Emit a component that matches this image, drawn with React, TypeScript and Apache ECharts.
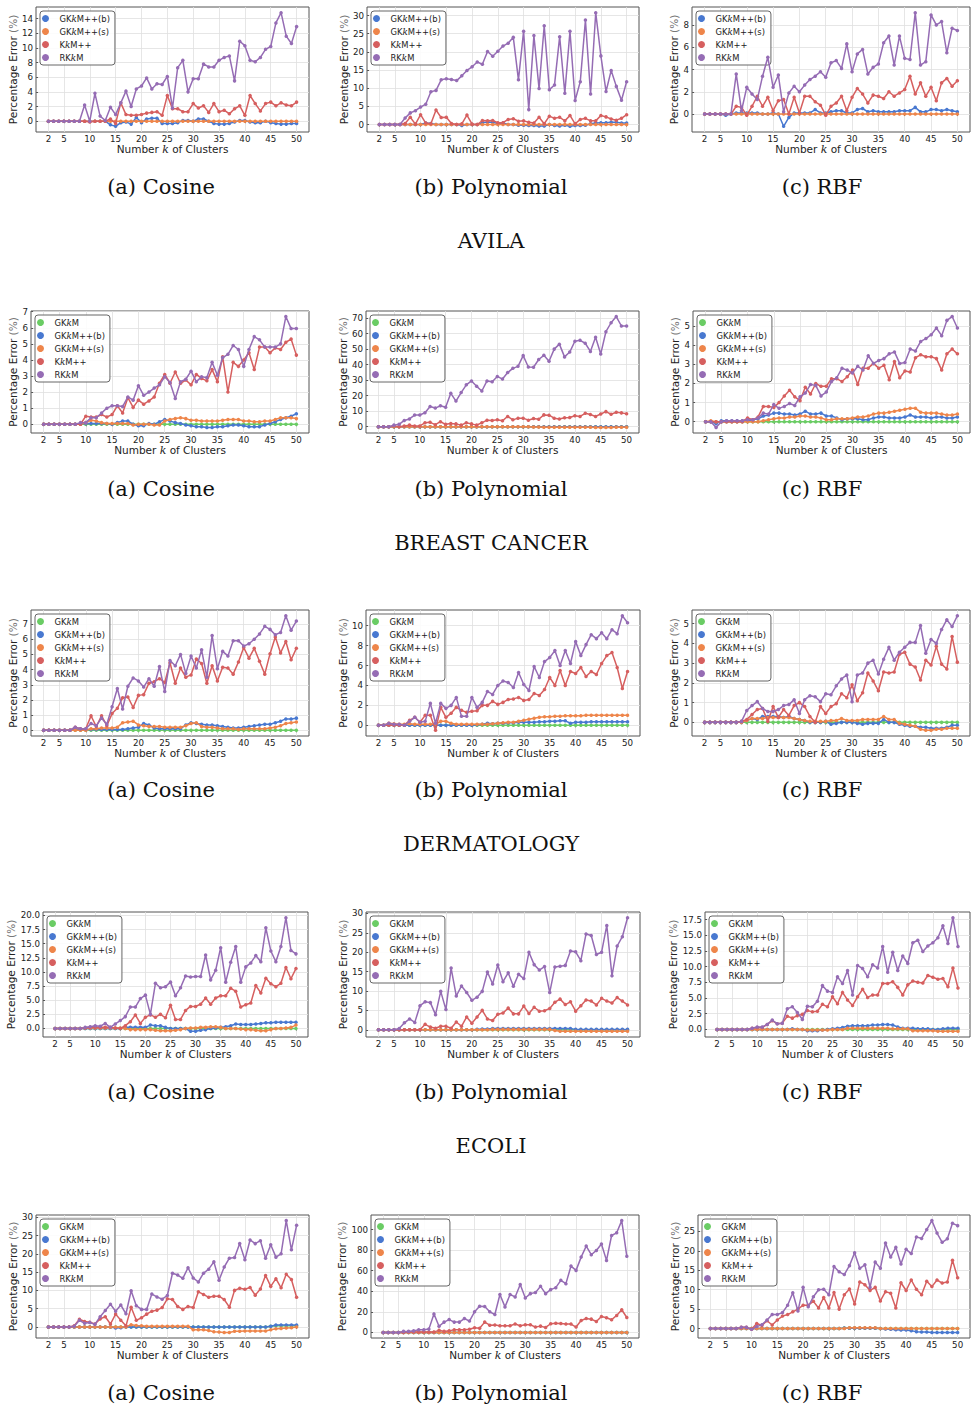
import React, { useEffect, useRef } from "react";
import * as echarts from "echarts";

// ---------- categories / ticks ----------
const K_VALUES = [2,3,4,5,6,7,8,9,10,11,12,13,14,15,16,17,18,19,20,21,22,23,24,25,26,27,28,29,30,31,32,33,34,35,36,37,38,39,40,41,42,43,44,45,46,47,48,49,50];
const X_TICKS = [2,5,10,15,20,25,30,35,40,45,50];
const SERIES_NAMES = ["GKkM","GKkM++(b)","GKkM++(s)","KkM++","RKkM"];
const CAPTIONS = ["(a) Cosine","(b) Polynomial","(c) RBF"];
const DATASETS = ["AVILA","BREAST CANCER","DERMATOLOGY","ECOLI"];

const ZERO = [0,0,0,0,0,0,0,0,0,0, 0,0,0,0,0,0,0,0,0,0, 0,0,0,0,0,0,0,0,0,0, 0,0,0,0,0,0,0,0,0,0, 0,0,0,0,0,0,0,0,0];

// ---------- AVILA ----------
const AV_COS_B = [0,0,0,0,0,0,0,0,0,0, 0,0,-0.5,-0.7,-0.2,-0.1,-0.4,0.5,-0.2,0.3, 0.4,0.4,-0.3,-0.3,-0.3,-0.2,0.1,0.1,0,0.3, 0.3,0,-0.3,-0.4,-0.4,-0.3,-0.1,0.1,0.1,-0.1, -0.2,-0.2,0,-0.2,-0.3,-0.4,-0.4,-0.3,-0.3];
const AV_COS_K = [0,0,0,0,0,0,0,0,-0.1,0, 0,0,0.3,-0.3,2.5,0.9,0.8,0.8,0.9,1.1, 1.2,1.3,0.8,3.5,1.7,1.7,1.3,1.3,2.4,1.8, 2.1,1.2,2.4,1.3,1.5,1.0,1.7,2.1,0.8,3.5, 2.4,1.4,2.4,2.6,2.1,2.5,2.2,2.1,2.6];
const AV_COS_R = [0,0,0,0,0,0,0,2.2,0,3.8, 0.7,0.1,1.9,0.9,2.5,4.1,2.0,4.4,4.8,5.9, 4.4,5.1,5.0,6.1,1.8,7.3,8.3,4.0,5.8,5.8, 7.8,7.4,7.4,8.3,8.7,8.9,5.5,10.9,10.3,8.3, 8.1,8.7,9.8,10.2,13.4,14.8,11.6,10.6,12.9];

const AV_POL_B = [0,0,0,0,0,0,0,0,0,0.4, 0.3,0,0,0,0,0,-0.3,0,0,0, 0.5,0.7,0.6,0.3,0.4,0,0,-0.2,-0.2,-0.3, -0.3,-0.4,-0.4,0,-0.3,-0.4,-0.2,-0.5,-0.3,-0.3, -0.2,0.2,0.4,0.5,0.5,0.6,0.6,0.4,0.4];
const AV_POL_K = [0,0,0,0,0,0.3,2.0,0.1,2.7,0.4, 0.2,4.0,1.9,2.0,0.3,0,0.2,2.6,0.1,0, 1.1,1.0,1.1,0.5,0.5,1.4,1.6,0.9,1.0,0.6, 0.4,2.0,0.2,2.3,1.7,2.0,1.0,2.5,0.2,1.4, 1.7,1.0,1.0,2.5,2.1,1.5,1.2,1.7,2.7];
const AV_POL_R = [0,0,0,0,0,1.8,3.2,3.8,4.8,5.6, 9.0,9.4,12.3,12.6,12.4,12.1,13.4,14.9,15.9,17.2, 16.6,20.1,18.8,20.2,21.6,22.4,24.0,12.3,25.7,4.1, 24.5,9.9,27.2,9.6,10.9,24.2,8.6,25.7,6.6,11.8, 28.8,8.4,30.8,18.9,9.1,14.9,10.5,6.7,11.8];

const AV_RBF_B = [0,0,0,0,-0.1,0,0.1,0.1,0.1,0.1, 0.1,0,0,0.1,0,-1.1,-0.3,0.1,0.1,0.1, 0.1,0.4,0.1,0.1,0.2,0.3,0.3,0.1,0.1,0.4, 0.5,0.2,0.3,0.2,0.2,0.2,0.2,0.3,0.3,0.3, 0.6,0.2,0.2,0.4,0.4,0.3,0.4,0.3,0.2];
const AV_RBF_K = [0,0,0,0,0,0,0.7,0.6,-0.1,0.7, 1.6,0.7,1.5,0.3,1.2,1.3,0,1.5,0.1,1.6, 1.6,1.1,0.8,-0.1,0.7,1.0,1.6,0.3,1.5,2.3, 1.8,1.0,1.7,1.6,1.4,2.0,1.6,1.9,2.2,3.4, 1.8,2.8,1.6,2.4,1.2,2.8,3.2,2.5,3.0];
const AV_RBF_R = [0,0,0,0,0,0,3.6,0.3,2.4,1.8, 1.3,3.4,5.1,2.4,3.5,0.2,1.9,2.5,2.0,2.6, 3.1,3.4,3.8,3.3,4.6,4.8,4.1,6.3,3.8,5.4, 5.8,3.6,4.2,4.5,6.4,7.0,4.4,7.0,5.0,4.9, 9.1,4.4,4.7,8.9,8.0,8.3,5.5,7.7,7.5];

// ---------- BREAST CANCER ----------
const BC_COS_B = [0,0,0,0,0,0,0,0.05,0.05,0.05, 0.05,0.05,0.05,0,0.1,0.2,0.2,0,-0.1,-0.1, 0.05,0,0.15,0.3,0.2,0.1,0.05,-0.05,-0.1,-0.15, -0.15,-0.2,-0.2,-0.15,-0.15,-0.1,-0.05,-0.05,-0.1,-0.15, -0.15,-0.15,-0.05,0.05,0.15,0.3,0.4,0.5,0.65];
const BC_COS_S = [0,0,0,0,0,0,0,0,0.1,0.25, 0.2,0.1,0.05,0.05,0.05,0.05,0.05,-0.05,0,0, 0,-0.05,-0.05,0.2,0.3,0.35,0.4,0.35,0.25,0.25, 0.2,0.2,0.2,0.2,0.25,0.3,0.3,0.3,0.2,0.2, 0.15,0.15,0.2,0.2,0.3,0.4,0.4,0.4,0.35];
const BC_COS_K = [0,0,0,0,0,0,0,0,0.5,0.45, 0.45,0.6,0.45,0.6,1.15,0.7,1.65,1.05,1.5,1.25, 1.45,1.7,2.55,3.1,2.55,3.25,2.55,2.75,2.45,3.1, 2.85,2.7,3.4,2.65,4.2,2.0,3.85,3.6,4.0,4.45, 3.4,4.8,4.8,4.45,4.75,4.65,5.1,5.3,4.3];
const BC_COS_R = [0,0,0,0,0,0,0,0.1,0.1,0.4, 0.4,0.7,1.0,1.15,1.15,1.1,1.7,1.5,2.4,1.8, 2.0,2.25,2.45,2.95,2.6,1.6,2.65,2.8,3.3,2.65, 2.95,2.9,3.85,3.05,4.15,4.35,4.9,4.65,3.6,4.65, 5.45,5.25,4.8,4.8,4.8,5.0,6.7,5.95,5.95];

const BC_POL_S = [0,0,0,0,0,0,0,0,0,0, 0,0,0,0,0,0,0,0,0,0, 0,0,0,0,0,0,0,0,0,0, -0.2,-0.2,-0.3,-0.3,-0.3,-0.3,-0.3,-0.4,-0.4,-0.4, -0.4,-0.4,-0.5,-0.5,-0.5,-0.5,-0.4,-0.4,-0.4];
const BC_POL_K = [0,0,0,0.5,0,0.5,1,0.5,0.5,2.5, 2.8,1.3,3.2,1.5,2,1.8,1,2.5,1.8,1, 2.5,4.2,4.0,4.4,3.8,6.6,4.4,5.5,5.5,4.2, 5.3,4.8,7.6,7.4,5.5,5.0,5.7,5.9,7.0,6.6, 8.6,7.8,6.6,8.2,9.7,8.0,9.3,8.9,8.4];
const BC_POL_R = [0,0,0,1,1.5,4,5,7.5,7.5,9, 13,12,13.5,12.5,21.5,16.5,22,27,29.5,26, 23,29.5,29.0,32.4,30.7,34.9,37.6,38.9,45.8,38.5, 38.3,43.3,46.0,42.2,50.0,53.2,45.0,48.1,55.1,55.7, 53.8,48.5,57.6,46.9,61.2,67.0,71.0,64.9,64.9];

const BC_RBF_B = [0,0,-0.1,0.05,0.05,0.05,0.05,0.05,0.05,0.1, 0.15,0.3,0.35,0.45,0.45,0.4,0.4,0.35,0.4,0.55, 0.4,0.4,0.45,0.3,0.3,0.2,0.1,0.15,0.15,0.15, 0.1,0.1,0.2,0.25,0.25,0.2,0.2,0.2,0.25,0.35, 0.25,0.25,0.25,0.2,0.25,0.25,0.2,0.2,0.25];
const BC_RBF_S = [0,0.05,0,0,0,0,0,0,0,0, 0,0.05,0.1,0.15,0.2,0.2,0.25,0.25,0.3,0.3, 0.25,0.25,0.2,0.1,0.1,0.15,0.15,0.15,0.2,0.25, 0.25,0.3,0.4,0.45,0.45,0.5,0.55,0.6,0.65,0.7, 0.7,0.5,0.45,0.45,0.45,0.4,0.35,0.35,0.4];
const BC_RBF_K = [0,0,0,0,0,0,0,0,0.2,0.1, 0.25,0.8,0.8,0.75,1.0,1.35,1.65,1.3,1.1,1.8, 1.45,2.0,1.85,1.85,2.25,2.25,2.1,2.35,2.7,1.95, 2.8,2.8,3.05,2.8,2.95,2.2,3.15,2.3,2.65,2.6, 3.35,3.5,3.4,3.4,3.3,2.7,3.55,3.8,3.55];
const BC_RBF_R = [0,0,-0.3,0,0.05,0.05,0.05,0.05,0.1,0.1, 0.2,0.45,0.4,0.9,0.7,0.8,0.95,0.85,1.3,1.5, 1.95,1.9,1.35,1.55,2.1,2.3,2.8,2.7,2.55,2.9, 2.7,3.45,3.05,3.2,3.3,3.55,3.65,3.05,3.1,3.8, 3.7,4.2,4.35,4.55,4.9,4.5,5.3,5.5,4.9];

// ---------- DERMATOLOGY ----------
const DE_COS_B = [0,0,0,0,0,0,0.05,0.05,0.05,0.05, 0.05,0.05,0.05,0.05,0.05,0.05,0.1,0.15,0.2,0.45, 0.35,0.15,0.1,0.1,0.1,0.1,0.1,0.35,0.5,0.45, 0.4,0.35,0.35,0.3,0.25,0.2,0.15,0.15,0.2,0.25, 0.3,0.35,0.4,0.4,0.5,0.6,0.75,0.75,0.8];
const DE_COS_S = [0,0,0,0,0,0,0,0,0,0.1, 0.1,0.15,0.15,0.15,0.2,0.5,0.55,0.6,0.35,0.3, 0.25,0.25,0.25,0.2,0.2,0.2,0.2,0.3,0.45,0.5, 0.25,0.2,0.2,0.15,0.1,0.1,0.1,0.05,0.1,0.1, 0.1,0.1,0.1,0.15,0.2,0.3,0.45,0.5,0.55];
const DE_COS_K = [0,0,0,0,0,0,0.2,0.1,0.1,0.95, 0.25,0.95,0.3,1.1,1.45,2.15,2.2,1.5,2.3,2.35, 3.1,3.2,3.4,3.15,4.45,3.1,4.1,3.5,3.65,4.7, 4.4,3.1,4.25,3.25,4.15,4.1,3.7,4.5,5.45,4.75, 5.4,4.55,3.7,5.05,6.15,5.1,5.85,4.65,5.4];
const DE_COS_R = [0,0,0,0,0,0,0.2,0.1,0.1,0.45, 0.3,0.8,0.4,1.55,2.75,1.4,2.9,3.45,3.25,2.85, 3.4,2.9,4.2,2.55,4.6,4.25,5.0,3.75,4.9,4.1, 5.3,3.5,6.25,4.05,5.2,4.9,5.9,5.9,5.55,5.7, 6.0,6.35,6.85,6.65,6.3,6.45,7.55,6.6,7.2];

const DE_POL_B = [0,0,0,0,0,0,0,0,0,0, 0,0,0,0,0,0,0,0,0,0.05, 0.1,0.2,0.15,0.2,0.2,0.25,0.25,0.3,0.3,0.3, 0.3,0.35,0.35,0.4,0.4,0.45,0.45,0.2,0.3,0.3, 0.3,0.35,0.35,0.35,0.35,0.35,0.35,0.35,0.35];
const DE_POL_S = [0,0,0.2,0.15,0.1,0.1,0.15,0.1,0.1,0.1, 0.1,0.1,0.4,0.4,0.2,0.1,0.1,0.1,0.1,0.1, 0.1,0.1,0.15,0.2,0.25,0.3,0.3,0.4,0.5,0.6, 0.7,0.8,0.85,0.85,0.9,0.9,0.95,0.95,0.95,0.95, 1.0,1.0,1.0,1.0,1.0,1.0,1.0,1.0,1.0];
const DE_POL_K = [0,0,0,0,0,0,0.5,0.8,0.3,1.0, 1.0,-0.5,1.8,0.8,1.2,1.8,1.5,1.3,1.4,1.45, 2.0,2.0,2.4,2.1,2.3,2.6,2.65,2.8,2.5,2.6, 3.2,3.0,3.6,4.8,4.0,5.5,4.0,5.4,5.2,5.8, 4.9,5.4,5.1,6.2,7.0,7.3,5.8,3.7,5.4];
const DE_POL_R = [0,0,0.2,0.1,0.1,0,0.4,0.8,0.3,0.4, 2.2,0.2,2.2,1.7,2.0,2.8,0.9,0.9,2.8,1.8, 2.3,3.4,3.1,4.0,4.45,4.3,3.8,5.3,4.1,3.5, 5.9,4.8,6.4,6.8,7.5,6.0,7.5,6.2,8.4,7.0, 8.1,9.1,8.7,9.3,8.7,9.6,9.2,11.0,10.3];

const DE_RBF_B = [0,0,0,0,0,0,0,0,0.1,0.2, 0.15,0.3,0.3,0.3,0.3,0.25,0.3,0.2,0.15,0.1, 0,0,0,0.05,-0.1,-0.05,0,0,0,-0.05, -0.1,-0.05,-0.05,-0.05,0.15,0,0,-0.1,-0.15,-0.2, -0.2,-0.25,-0.25,-0.3,-0.3,-0.3,-0.25,-0.15,-0.15];
const DE_RBF_S = [0,0,0,0,0,0,0,0,0.1,0.2, 0.2,0.2,0.25,0.25,0.25,0.25,0.25,0.2,0.15,0.1, 0.05,0.05,0.05,0.05,0.1,0.1,0.2,0.1,0.1,0.1, 0.15,0.15,0.15,0.15,0.3,0.15,0.15,-0.05,-0.1,-0.15, -0.2,-0.35,-0.4,-0.4,-0.35,-0.35,-0.3,-0.3,-0.3];
const DE_RBF_K = [0,0,0,0,0,0,0,0.05,0.15,0.4, 0.65,0.7,0.05,0.8,0.25,0.65,0.35,0.85,1.0,0.8, 0.3,0,0.8,0.45,0.8,0.95,1.45,1.25,1.9,1.1, 1.5,2.5,2.1,1.6,2.55,2.5,2.55,3.45,3.55,2.95, 2.8,2.15,3.15,2.9,3.85,2.95,2.7,4.35,3.05];
const DE_RBF_R = [0,0,0,0,0,0,0,0.05,0.6,0.85, 1.05,0.7,0.55,0.55,0.65,0.85,0.9,1.15,0.45,1.15, 1.35,1.3,1.05,1.45,1.4,1.85,2.2,2.4,1.05,2.4, 2.5,3.0,3.15,2.45,3.2,3.8,3.15,3.55,3.8,4.05, 4.05,4.9,3.5,4.2,4.0,4.7,5.2,4.85,5.4];

// ---------- ECOLI ----------
const EC_COS_B = [0,0,0,0,0,0,0,0,0,0, 0,0,0,0,0.2,0.2,0.2,0.2,0.2,0.6, 0.5,0.5,0.2,0,0,0,0,-0.5,-0.5,-0.3, -0.2,0,0.1,0.2,0.3,0.5,0.8,0.7,0.7,0.7, 0.8,0.9,1.0,1.0,1.1,1.1,1.1,1.1,1.1];
const EC_COS_S = [0,0,0,0,0,0,0.1,0.1,0.1,0.1, 0.1,0.1,0.1,0.1,0,-0.2,-0.2,-0.2,-0.2,-0.2, -0.3,-0.4,-0.4,-0.4,-0.3,-0.2,0,0.1,0.1,0.2, 0.2,0.3,0.3,0.2,0,0,0,-0.1,-0.2,-0.2, -0.3,-0.4,-0.4,-0.2,0,0,0.1,0.2,0.6];
const EC_COS_K = [0,0,0,0,0,0,0.1,0.2,0.2,0.2, 0.2,0.2,0.1,0,0.5,1.2,2.4,0.9,2.0,2.4, 2.0,2.5,1.9,4.1,1.6,1.6,3.2,3.9,3.9,4.3, 5.4,4.3,5.4,5.8,5.8,7.1,6.6,3.8,4.2,4.5, 7.6,6.3,8.9,7.9,7.4,8.0,10.8,8.8,10.6];
const EC_COS_R = [0,0,0,0,0,0,0.2,0.3,0.5,0.4, 0.9,0.2,0.8,1.4,2.1,3.8,3.8,5.3,5.9,2.5, 8.0,7.2,7.4,8.2,5.8,7.2,9.3,9.1,9.2,9.2, 13.0,8.6,10.3,14.3,8.2,11.7,14.5,8.2,10.9,11.6, 12.9,11.8,17.8,13.7,11.8,14.5,19.6,13.8,13.2];

const EC_POL_B = [0,0,0,0,0,0,0,0,0,0, 0,0,0,0,0,0,0,0,0,0.1, 0.2,0.2,0.3,0.3,0.3,0.3,0.3,0.3,0.3,0.3, 0.3,0.3,0.3,0.3,0.3,0.3,0.3,0.3,0.1,0.1, 0.1,0.1,0.1,0.1,0.1,0.1,0.1,0.1,0.1];
const EC_POL_S = [0,0,0,0,0,0,0,0,0,0, 0,0,0,0,0,0,0,0,0,0, 0,0,0.1,0.1,0.1,0.1,0.1,0.1,0.1,0.1, 0.1,0.1,0.1,0.1,-0.2,-0.4,-0.4,-0.4,-0.4,-0.4, -0.4,-0.4,-0.4,-0.4,-0.4,-0.4,-0.4,-0.4,-0.4];
const EC_POL_K = [0,0,0,0,0,0,0,0,0,1.4, 0.7,0.4,0.9,0.9,0.4,2.0,0.9,3.3,1.7,3.3, 5.0,2.8,2.4,4.0,4.3,5.6,4.1,4.1,6.1,4.2, 5.8,4.8,4.9,5.5,7.1,7.9,6.5,7.2,4.8,6.2, 7.7,7.4,6.4,8.1,7.4,6.9,8.3,7.4,6.4];
const EC_POL_R = [0,0,0,0,0.3,1.8,2.8,1.9,6.2,7.2, 7.0,3.9,9.9,5.2,15.9,8.7,11.3,9.6,7.6,8.4, 9.9,14.9,11.8,16.7,12.4,14.7,11.2,14.3,13.2,20.0, 16.8,15.4,16.3,9.6,16.2,16.4,16.6,20.3,20.1,17.8, 24.7,24.3,19.4,20.0,26.9,13.9,21.6,24.0,28.9];

const EC_RBF_B = [0,0,0,0,0,0,0,0,0,0, 0,0,0,0,0,0.1,0,0,-0.2,-0.2, -0.2,-0.1,0,0.1,0.2,0.3,0.5,0.6,0.6,0.6, 0.6,0.7,0.7,0.8,0.8,0.7,0.4,0.2,0.2,0.2, 0.1,0.1,0.1,0,0,0.1,0.2,0.2,0.2];
const EC_RBF_S = [0,0,0,0,0,0,0,0,0,0, 0,0,0,0,0,0,0,0,-0.1,-0.1, -0.1,-0.1,-0.1,0,0,0,0.2,0.2,0.2,0.2, 0.2,0.2,0.2,0.2,0.2,0.1,0.1,0.1,0.1,-0.2, -0.2,-0.2,-0.2,-0.2,-0.3,-0.3,-0.3,-0.3,-0.3];
const EC_RBF_K = [0,0,0,0,0,0,0,0.2,0.3,0.3, 0.8,1.4,0.9,1.0,2.1,1.8,2.2,2.4,3.0,2.8, 2.9,4.0,3.6,5.2,4.1,5.9,4.7,3.8,5.2,6.4, 5.1,5.5,5.5,7.3,7.3,7.6,6.7,5.5,7.1,7.7, 7.5,7.4,8.6,8.3,8.0,8.1,6.8,9.8,6.6];
const EC_RBF_R = [0,0,0,0,0,0,0,0.2,0.4,0.4, 0.8,1.5,0.9,1.0,3.3,3.6,2.7,1.6,3.7,3.6, 4.5,7.0,6.1,5.9,8.4,7.3,9.4,5.5,10.2,9.7, 8.4,10.3,9.8,13.2,9.1,12.3,9.4,11.7,10.5,13.8, 14.2,12.4,13.3,13.8,14.6,16.5,13.7,17.8,13.2];

// ---------- fifth dataset ----------
const D5_COS_G = [0,0,0,0,0,0,0,0,0,0, 0,0,0,0,0,0,0,0,0,0, 0,0,0,0,0,0,0,0,0,0, 0,0,0,0,0,0,0,0,0,0, 0,0,0,0.2,0.3,0.3,0.3,0.3,0.3];
const D5_COS_B = [0,0,0,0,0,0,0,0,0,0, 0,0,0,-0.3,-0.2,0,0,0,0,0, 0,0,0,0,0,0,0,0,0,0, 0,0,0,0,0,0,0,0,0,0, 0,0,0,0.2,0.5,0.5,0.5,0.5,0.5];
const D5_COS_S = [0,0,0,0,0,0,0,0,0,0, 0,0,0,0,0,0,0.6,0.4,0.3,0.2, 0.2,0.2,0.2,0.2,0.2,0.2,0.2,0.2,-0.8,-0.8, -0.8,-1.0,-1.3,-1.4,-1.5,-1.5,-1.2,-1.2,-1.1,-1.1, -1.1,-1.1,-1.1,-0.8,-0.5,-0.4,-0.3,-0.2,0];
const D5_COS_K = [0,0,0,0,0,0.3,2.1,1.5,1.3,0.8, 2.2,2.8,0.8,3.5,1.8,0.3,5.4,1.8,2.5,3.5, 4.3,4.6,5.3,7.7,7.5,5.6,4.8,5.6,5.3,9.6, 8.9,8.1,8.4,8.4,7.5,5.4,10.0,10.6,10.3,10.8, 8.7,10.4,14.1,11.1,13.2,10.7,14.4,13.0,8.1];
const D5_COS_R = [0,0,0,0,0,0.2,1.8,1.0,1.2,0.7, 2.8,4.5,6.2,4.3,6.0,3.6,9.9,5.8,4.8,4.8, 9.0,8.2,7.6,8.6,14.7,14.2,13.3,16.2,13.4,12.3, 14.7,15.8,17.8,12.8,16.4,18.8,19.0,22.8,18.4,23.8, 22.8,23.6,18.8,22.5,19.1,20.0,29.1,21.1,27.8];

const D5_POL_K = [0,0,0,0,0,0.5,0.5,0.5,0.5,0.5, 0.5,2,1,1.5,2.5,2.5,2.5,3,4.5,4, 10,7,7.1,6.5,6.5,6.5,8.1,6.5,7.4,7.4, 5.2,6.1,4.8,8.4,9.0,8.7,8.1,8.1,5.2,11.6, 13.5,12.9,10.6,15.5,14.2,12.3,16.5,22.0,14.5];
const D5_POL_R = [0,0,0,0,1,1,1.5,2.5,2.5,3.2, 18,6,10,12.5,10,10,13.5,11,20,25.5, 25.2,20,17.4,36.8,24.8,36.8,34.5,46.5,33.5,37.7, 38.7,44.8,37.7,41.6,43.5,50.6,47.4,64.5,60.3,73.2, 83.9,75.5,79.7,86,70,94.2,96.8,108.7,74];

const D5_RBF_G = [0,0,0,0,0,0,0,0,0,0, 0,0,0,0,0,0,0,0,0,0, 0,0,0,0,0,0,0.1,0.1,0.1,0.1, 0.1,0.1,0.1,0,0,0,0,0,0,0, 0,0,0,0,0,0,0,0,0];
const D5_RBF_B = [0,0,0,0,0,0,0,0,0,0, 0,0,0,0,0,0,0,0,0,0, 0,0,0,0,0,0,0.1,0.1,0.1,0.1, 0.1,0.1,0.1,0,-0.1,-0.2,-0.3,-0.4,-0.4,-0.6, -0.8,-0.9,-0.9,-1.0,-1.0,-1.0,-1.0,-1.0,-1.0];
const D5_RBF_S = [0,0,0,0,0,0,0,0,0,0, 0,0,0,0,0,0,0,0,0,0, 0,0,0,0,0,0,0,0.2,0.2,0.2, 0.2,0.2,0.2,0,0,0,0,0,0,0, 0,0,0,0,0,0,0,0,0];
const D5_RBF_K = [0,0,0,0,0,0,0.3,0.3,-0.2,1.3, 0.8,2.0,0.9,2.2,3.2,3.6,4.3,5.0,6.0,6.0, 7.0,5.3,8.0,5.3,9.3,5.0,8.7,10.2,6.3,12.0, 11.3,9.8,10.6,7.1,9.5,9.1,5.3,11.8,9.8,12.5, 10.1,8.7,12.2,10.8,12.5,11.7,12.0,17.6,13.1];
const D5_RBF_R = [0,0,0,0,0,0,0.3,0.3,-0.2,0.5, 1.0,2.2,3.6,3.6,4.1,6.0,9.2,4.5,10.6,5.6, 8.2,10.0,10.1,8.7,16.0,14.6,13.9,16.2,19.5,15.5, 16.4,10.6,17.1,15.5,22.0,18.4,20.9,16.6,20.4,19.3, 23.6,23.2,25.5,27.8,24.6,22.2,23.1,27.1,26.5];

// ---------- y tick labels ----------
const YT_AV = [[0,2,4,6,8,10,12,14],[0,5,10,15,20,25,30],[0,2,4,6,8]];
const YT_BC = [[0,1,2,3,4,5,6,7],[0,10,20,30,40,50,60,70],[0,1,2,3,4,5]];
const YT_DE = [[0,1,2,3,4,5,6,7],[0,2,4,6,8,10],[0,1,2,3,4,5]];
const YT_EC = [[0,2.5,5,7.5,10,12.5,15,17.5,20],[0,5,10,15,20,25,30],[0,2.5,5,7.5,10,12.5,15,17.5]];
const YT_D5 = [[0,5,10,15,20,25,30],[0,20,40,60,80,100],[0,5,10,15,20,25]];

type Panel = { row: number; col: number; lines: (number[] | null)[]; yTicks: number[]; dec: number };

const PANELS: Panel[] = [
  { row: 0, col: 0, lines: [null, AV_COS_B, ZERO, AV_COS_K, AV_COS_R], yTicks: YT_AV[0], dec: 0 },
  { row: 0, col: 1, lines: [null, AV_POL_B, ZERO, AV_POL_K, AV_POL_R], yTicks: YT_AV[1], dec: 0 },
  { row: 0, col: 2, lines: [null, AV_RBF_B, ZERO, AV_RBF_K, AV_RBF_R], yTicks: YT_AV[2], dec: 0 },
  { row: 1, col: 0, lines: [ZERO, BC_COS_B, BC_COS_S, BC_COS_K, BC_COS_R], yTicks: YT_BC[0], dec: 0 },
  { row: 1, col: 1, lines: [ZERO, ZERO, BC_POL_S, BC_POL_K, BC_POL_R], yTicks: YT_BC[1], dec: 0 },
  { row: 1, col: 2, lines: [ZERO, BC_RBF_B, BC_RBF_S, BC_RBF_K, BC_RBF_R], yTicks: YT_BC[2], dec: 0 },
  { row: 2, col: 0, lines: [ZERO, DE_COS_B, DE_COS_S, DE_COS_K, DE_COS_R], yTicks: YT_DE[0], dec: 0 },
  { row: 2, col: 1, lines: [ZERO, DE_POL_B, DE_POL_S, DE_POL_K, DE_POL_R], yTicks: YT_DE[1], dec: 0 },
  { row: 2, col: 2, lines: [ZERO, DE_RBF_B, DE_RBF_S, DE_RBF_K, DE_RBF_R], yTicks: YT_DE[2], dec: 0 },
  { row: 3, col: 0, lines: [ZERO, EC_COS_B, EC_COS_S, EC_COS_K, EC_COS_R], yTicks: YT_EC[0], dec: 1 },
  { row: 3, col: 1, lines: [ZERO, EC_POL_B, EC_POL_S, EC_POL_K, EC_POL_R], yTicks: YT_EC[1], dec: 0 },
  { row: 3, col: 2, lines: [ZERO, EC_RBF_B, EC_RBF_S, EC_RBF_K, EC_RBF_R], yTicks: YT_EC[2], dec: 1 },
  { row: 4, col: 0, lines: [D5_COS_G, D5_COS_B, D5_COS_S, D5_COS_K, D5_COS_R], yTicks: YT_D5[0], dec: 0 },
  { row: 4, col: 1, lines: [ZERO, ZERO, ZERO, D5_POL_K, D5_POL_R], yTicks: YT_D5[1], dec: 0 },
  { row: 4, col: 2, lines: [D5_RBF_G, D5_RBF_B, D5_RBF_S, D5_RBF_K, D5_RBF_R], yTicks: YT_D5[2], dec: 0 },
];

// ---------- layout & style ----------
const COLORS = ["#6acc64", "#4878d0", "#ee854a", "#d65f5f", "#956cb4"];
const ROW_TOP = [7, 311, 610, 912, 1215];
const ROW_BOTTOM = [132, 433, 736, 1037, 1338];
const PANEL_LEFT = [[36, 367, 692], [31, 366, 693], [31, 366, 692], [43, 366, 705], [36, 371, 698]];
const PANEL_RIGHT = [[309, 639, 970], [309, 639, 970], [309, 640, 970], [308, 640, 970], [309, 639, 970]];
const YNAME_X = [16, 346, 678];
const CAPTION_X = [161, 491, 822];
const CAPTION_Y = [187, 489, 790, 1092, 1393];
const TITLE_Y = [241, 543, 844, 1146];
const SANS = "DejaVu Sans";
const SERIF = "DejaVu Serif";
const TXT = "#222";
const FRAME = "#555";
const GRIDC = "#e0e0e0";

const richName = (n: string) => n.replace("kM", "{i|k}M");

function buildOption() {
  const grid: any[] = [], xAxis: any[] = [], yAxis: any[] = [], series: any[] = [], legend: any[] = [];
  const elements: any[] = [];
  const kMin = K_VALUES[0], kMax = K_VALUES[K_VALUES.length - 1];
  const kPad = (kMax - kMin) * 0.05;

  PANELS.forEach((p, i) => {
    const left = PANEL_LEFT[p.row][p.col];
    const right = PANEL_RIGHT[p.row][p.col];
    const top = ROW_TOP[p.row];
    const bottom = ROW_BOTTOM[p.row];
    grid.push({ left, top, width: right - left, height: bottom - top, show: true, borderColor: FRAME, borderWidth: 1, backgroundColor: "rgba(0,0,0,0)" });

    const vals: number[] = [];
    p.lines.forEach((l) => { if (l) vals.push(...l); });
    const lo = Math.min(...vals), hi = Math.max(...vals);
    const pad = (hi - lo) * 0.05;

    xAxis.push({
      type: "value", gridIndex: i, min: kMin - kPad, max: kMax + kPad,
      axisLine: { show: false },
      axisTick: { show: true, length: 2, customValues: X_TICKS, lineStyle: { color: FRAME } },
      axisLabel: { customValues: X_TICKS, fontSize: 8.7, color: TXT, margin: 2, fontFamily: SANS },
      splitLine: { show: true, lineStyle: { color: GRIDC, width: 0.8 } },
      name: "Number {i|k} of Clusters", nameLocation: "middle", nameGap: 9,
      nameTextStyle: { fontSize: 10.5, color: TXT, fontFamily: SANS, rich: { i: { fontSize: 11, fontStyle: "italic", fontFamily: SERIF, color: TXT } } },
    });
    const dec = p.dec;
    yAxis.push({
      type: "value", gridIndex: i, min: lo - pad, max: hi + pad,
      axisLine: { show: false },
      axisTick: { show: true, length: 2, customValues: p.yTicks, lineStyle: { color: FRAME } },
      axisLabel: { customValues: p.yTicks, fontSize: 8.7, color: TXT, margin: 3, fontFamily: SANS, formatter: (v: number) => v.toFixed(dec) },
      splitLine: { show: true, lineStyle: { color: GRIDC, width: 0.8 } },
      name: "Percentage Error {g|(%)}", nameLocation: "middle", nameGap: left - YNAME_X[p.col] - 6,
      nameTextStyle: { fontSize: 10.5, color: TXT, fontFamily: SANS, rich: { g: { fontSize: 10.5, color: "#777", fontFamily: SANS } } },
    });

    const names: string[] = [];
    p.lines.forEach((l, s) => {
      if (!l) return;
      names.push(SERIES_NAMES[s]);
      series.push({
        type: "line", name: SERIES_NAMES[s], xAxisIndex: i, yAxisIndex: i,
        data: K_VALUES.map((k, j) => [k, l[j]]),
        symbol: "circle", symbolSize: 3.5, showSymbol: true, showAllSymbol: true,
        lineStyle: { width: 1.5, color: COLORS[s] }, itemStyle: { color: COLORS[s] },
        emphasis: { disabled: true }, silent: true, z: 2 + s,
      });
    });

    legend.push({
      show: true, left: left + 4, top: top + 4, orient: "vertical",
      itemWidth: 18, itemHeight: 7, itemGap: 4, icon: "circle",
      padding: [3, 5, 3, 2], borderColor: "#666", borderWidth: 1, borderRadius: 3,
      backgroundColor: "rgba(255,255,255,0.85)", selectedMode: false,
      textStyle: { fontSize: 8.4, lineHeight: 8, color: TXT, fontFamily: SANS, rich: { i: { fontSize: 8.8, lineHeight: 8, fontStyle: "italic", fontFamily: SERIF, color: TXT } } },
      formatter: (n: string) => richName(n),
      data: names,
    });
  });

  CAPTION_Y.forEach((y) => {
    CAPTIONS.forEach((c, ci) => {
      elements.push({ type: "text", x: CAPTION_X[ci], y, silent: true, style: { text: c, fontSize: 21, fontFamily: SERIF, fill: "#111", align: "center", verticalAlign: "middle" } });
    });
  });
  TITLE_Y.forEach((y, ti) => {
    elements.push({ type: "text", x: 491, y, silent: true, style: { text: DATASETS[ti], fontSize: 21, fontFamily: SERIF, fill: "#111", align: "center", verticalAlign: "middle" } });
  });

  return {
    animation: false,
    backgroundColor: "#ffffff",
    textStyle: { fontFamily: SANS },
    grid, xAxis, yAxis, series, legend,
    graphic: { elements },
  };
}

export default function App() {
  const ref = useRef<HTMLDivElement>(null);
  useEffect(() => {
    if (!ref.current) return;
    const chart = echarts.init(ref.current, undefined, { renderer: "svg" });
    chart.setOption(buildOption() as any);
    return () => chart.dispose();
  }, []);
  return (
    <div style={{ position: "absolute", left: 0, top: 0, width: 974, height: 1406, overflow: "hidden", background: "#fff" }}>
      <div ref={ref} style={{ width: 974, height: 1406 }} />
    </div>
  );
}
